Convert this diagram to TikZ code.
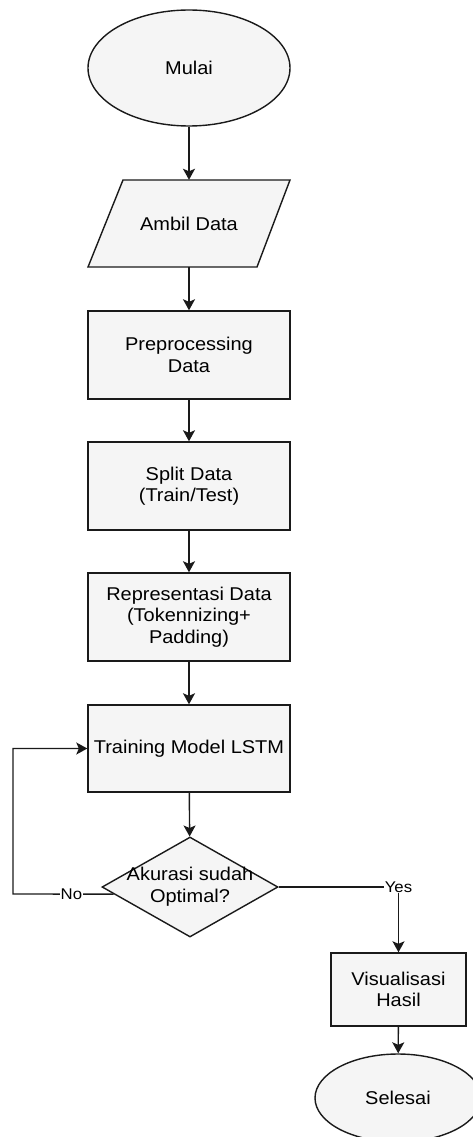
\documentclass[tikz,border=0pt]{standalone}
\usepackage{fontspec}
\setmainfont{Liberation Sans}[FakeStretch=1.08]
\usetikzlibrary{shapes.geometric,arrows.meta,calc}
\definecolor{boxfill}{HTML}{F5F5F5}
\definecolor{boxline}{HTML}{1A1A1A}
\begin{document}
\begin{tikzpicture}[x=1pt,y=-1pt,
  base/.style={draw=boxline, fill=boxfill, line width=1.4pt, font=\fontsize{18.5}{21.5}\selectfont, align=center, inner sep=0pt},
  procbox/.style={base, rectangle, minimum width=202pt, minimum height=88pt},
  termbox/.style={base, ellipse},
  decbox/.style={base, diamond, minimum width=176pt, minimum height=100pt},
  txt/.style={font=\fontsize{18.5}{21.5}\selectfont, align=center, inner sep=0pt},
  flow/.style={draw=boxline, line width=1.4pt, -{Stealth[length=11pt,width=12pt,inset=2.5pt]}},
  lbl/.style={fill=white, inner sep=1pt, font=\fontsize{15.5}{17}\selectfont}]
\useasboundingbox (0,0) rectangle (472,1137);
\node[termbox, minimum width=202pt, minimum height=116pt] (start) at (189,68) {Mulai};
\coordinate (ac) at (189,223.5);
\draw[base] ($(ac)+(-66,-43.5)$) -- ($(ac)+(101,-43.5)$) -- ($(ac)+(68,43.5)$) -- ($(ac)+(-101,43.5)$) -- cycle;
\node[txt, minimum width=202pt, minimum height=87pt] (ambil) at (ac) {Ambil Data};
\node[procbox] (prep) at (189,355) {Preprocessing\\Data};
\node[procbox] (split) at (189,486) {Split Data\\(Train/Test)};
\node[procbox] (repr) at (189,617) {Representasi Data\\(Tokennizing+\\Padding)};
\node[procbox, minimum height=87pt] (train) at (189,748.5) {Training Model LSTM};
\node[decbox] (dec) at (190,887) {};
\node[txt] (dect) at (190,886.5) {Akurasi sudah\\Optimal?};
\node[procbox, minimum width=135pt, minimum height=73pt] (vis) at (398.5,989.5) {Visualisasi\\Hasil};
\node[termbox, minimum width=166pt, minimum height=88pt] (end) at (398,1098) {Selesai};
\coordinate (noexit) at ($(dec.west)!0.14!(dec.south)$);
\coordinate (lp) at (13,894);
\draw[flow] (start) -- (ambil);
\draw[flow] (ambil) -- (prep);
\draw[flow] (prep) -- (split);
\draw[flow] (split) -- (repr);
\draw[flow] (repr) -- (train);
\draw[flow] (train) -- (dec);
\draw[flow] (noexit) -- node[lbl,pos=0.42]{No} (lp) |- (train.west);
\draw[flow] (dec.east) -| node[lbl,pos=0.5]{Yes} (vis.north);
\draw[flow] (vis) -- (end);
\end{tikzpicture}
\end{document}
